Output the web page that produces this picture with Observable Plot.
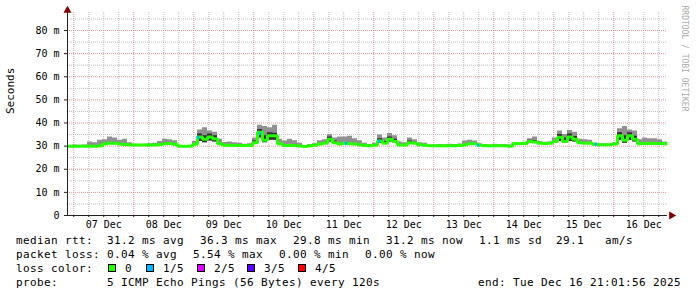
<!DOCTYPE html>
<html><head><meta charset="utf-8">
<script src="https://cdn.jsdelivr.net/npm/d3@7"></script>
<script src="https://cdn.jsdelivr.net/npm/@observablehq/plot@0.6"></script>
<style>
html,body{margin:0;padding:0;background:#fff;}
body{width:697px;height:297px;overflow:hidden;}
svg{display:block;}
</style></head><body>
<div id="chart"></div>
<script>
// ---- data (2-hour steps, starting Dec 6 21:30 UTC) ----
const medRtt = [30.0,30.0,30.0,30.0,30.0,30.0,30.1,31.0,31.2,31.2,
 30.9,30.7,30.6,30.5,30.5,30.5,30.5,30.5,30.7,31.0,
 31.1,30.8,29.9,30.0,30.0,30.8,34.0,33.0,34.0,33.2,
 31.0,30.4,30.4,30.3,30.3,30.3,30.3,31.5,36.0,32.5,
 34.5,34.5,31.0,30.3,30.3,30.3,30.1,29.8,30.2,30.4,
 30.9,31.2,33.0,31.5,30.9,31.2,31.0,30.9,30.6,30.3,
 30.2,30.4,32.2,31.3,33.0,32.0,30.5,30.5,31.5,31.2,
 30.6,30.4,30.2,30.2,30.2,30.2,30.2,30.2,30.3,30.6,
 31.0,31.0,30.4,30.2,30.2,30.2,30.2,30.2,30.0,31.0,
 31.1,31.1,32.0,31.8,31.2,31.1,31.2,32.0,33.8,32.0,
 34.0,33.0,31.5,31.2,31.2,30.8,30.6,30.6,30.6,30.9,
 34.5,32.5,34.5,33.0,31.0,31.1,31.1,31.1,31.1,31.0];
const pingMax = [30.3,30.5,30.4,30.5,31.8,31.5,32.5,32.8,34.0,33.5,
 32.5,33.0,31.5,30.8,30.7,30.8,31.0,31.2,32.0,33.0,
 32.8,32.3,30.3,30.2,30.2,32.0,37.0,38.0,36.5,36.0,
 33.0,31.6,31.8,31.5,31.2,30.8,31.0,33.5,39.0,38.5,
 38.0,39.0,33.0,32.2,33.0,32.3,31.2,30.2,30.7,31.0,
 32.3,32.8,35.0,33.5,34.0,34.0,34.3,33.2,32.3,31.2,
 30.7,31.2,34.8,33.5,35.5,34.5,31.8,31.5,33.5,32.8,
 31.5,31.2,30.5,30.5,30.7,30.6,30.8,30.7,30.9,32.2,
 32.5,32.2,31.0,30.7,30.5,30.8,30.6,30.7,30.5,31.4,
 31.5,31.7,33.2,34.0,32.0,31.7,31.8,33.5,36.5,35.0,
 36.8,36.0,33.0,32.8,32.5,31.3,30.9,31.0,30.9,31.5,
 37.5,38.5,37.0,36.5,32.8,33.5,33.2,33.2,32.8,31.8];
const pingInnerHi = [30.0,30.0,30.0,30.0,30.0,30.0,30.1,31.3,31.6,31.5,
 30.9,30.7,30.6,30.5,30.5,30.5,30.5,30.5,30.7,31.3,
 31.4,30.8,29.9,30.0,30.0,30.8,35.2,34.5,35.2,34.5,
 31.0,30.4,30.4,30.3,30.3,30.3,30.3,32.2,37.2,34.5,
 35.8,35.6,31.0,30.3,30.3,30.3,30.1,29.8,30.2,30.4,
 30.9,31.2,34.0,32.2,30.9,31.6,31.0,30.9,30.6,30.3,
 30.2,30.4,33.2,32.0,34.0,33.0,30.5,30.5,32.2,31.2,
 30.6,30.4,30.2,30.2,30.2,30.2,30.2,30.2,30.3,30.6,
 31.0,31.0,30.4,30.2,30.2,30.2,30.2,30.2,30.0,31.0,
 31.1,31.1,32.5,32.4,31.2,31.1,31.2,32.0,35.0,33.5,
 35.2,34.2,31.5,31.2,31.2,30.8,30.6,30.6,30.6,30.9,
 35.8,34.5,35.8,34.3,31.0,31.1,31.1,31.1,31.1,31.0];
const pingMin = [29.7,29.7,29.7,29.7,29.7,29.7,29.8,30.7,30.9,30.9,
 30.6,30.4,30.3,30.2,30.2,30.2,30.2,30.2,30.4,30.7,
 30.8,30.5,29.5,29.7,29.7,30.4,32.0,31.5,32.2,31.8,
 30.7,30.1,30.1,30.0,30.0,30.0,30.0,31.0,33.5,31.5,
 32.5,32.5,30.6,30.0,30.0,30.0,29.8,29.5,29.9,30.1,
 30.6,30.9,31.8,31.0,30.6,30.9,30.7,30.6,30.3,30.0,
 29.9,30.1,31.2,30.9,31.8,31.2,30.2,30.2,31.0,30.9,
 30.3,30.1,29.9,29.9,29.9,29.9,29.9,29.9,30.0,30.3,
 30.7,30.7,30.1,29.9,29.9,29.9,29.9,29.9,29.7,30.7,
 30.8,30.8,31.4,31.4,30.9,30.8,30.9,31.4,32.0,31.2,
 32.0,31.8,31.1,30.9,30.9,30.5,30.3,30.3,30.3,30.6,
 32.5,31.2,32.5,31.8,30.7,30.8,30.8,30.8,30.8,30.7];
// loss events: hours after Dec 7 00:00, pings lost (of 5), median at that time
const lossHour = [49.9, 74.7, 109.1, 122.3, 161.9, 209.0];
const lossPings = [1, 1, 1, 1, 1, 1];
const lossRtt = [33.8, 35.5, 31.2, 32.2, 30.4, 30.8];
const lossLabels = ["0", "1/5", "2/5", "3/5", "4/5"];
const lossColors = ["#26ff00", "#00b8ff", "#dd00ff", "#5e00ff", "#ff0000"];
const yTicks = [0, 10, 20, 30, 40, 50, 60, 70, 80];
const yMinor = [5, 15, 25, 35, 45, 55, 65, 75, 85];
const legendLines = [
  [[16, "median rtt:"], [107, "31.2 ms avg"], [200, "36.3 ms max"], [293, "29.8 ms min"], [386, "31.2 ms now"], [479, "1.1 ms sd"], [556, "29.1"], [605, "am/s"]],
  [[16, "packet loss:"], [107, "0.04 % avg"], [193, "5.54 % max"], [279, "0.00 % min"], [365, "0.00 % now"]],
  [[16, "loss color:"]],
  [[16, "probe:"], [107, "5 ICMP Echo Pings (56 Bytes) every 120s"], [478, "end: Tue Dec 16 21:01:56 2025"]]
];

// ---- build ----
const HOUR = 3600e3;
const day0 = Date.UTC(2025, 11, 7);
const startMs = day0 - 2.5 * HOUR;
const x0 = new Date(startMs), x1 = new Date(startMs + 240 * HOUR);
const rows = medRtt.map((m, i) => ({t: new Date(startMs + i * 2 * HOUR), med: m, hi: pingMax[i], inner: pingInnerHi[i], lo: pingMin[i]}));
rows.push({...rows[rows.length - 1], t: x1});
const midnights = d3.utcDay.range(x0, x1);
const sixAll = d3.utcHour.every(6).range(x0, x1);
const sixMinor = sixAll.filter(d => d.getUTCHours() !== 0);
const noons = midnights.map(d => new Date(+d + 12 * HOUR));
const lossIdx = lossHour.map((_, i) => i);

const minorStroke = "#bdbdbd", majorStroke = "#e39393";
const chart = Plot.plot({
  width: 697, height: 232,
  marginLeft: 67, marginRight: 30, marginTop: 12, marginBottom: 17,
  x: {type: "utc", domain: [x0, x1]},
  y: {domain: [0, 87.8]},
  color: {type: "identity"},
  style: {background: "#fff", fontFamily: "'DejaVu Sans Mono', monospace", fontSize: "10px", color: "#000"},
  marks: [
    Plot.ruleY(yMinor, {stroke: minorStroke, strokeDasharray: "1,1"}),
    Plot.ruleX(sixMinor, {stroke: minorStroke, strokeDasharray: "1,1"}),
    Plot.ruleY(yTicks.filter(d => d > 0), {stroke: majorStroke, strokeDasharray: "1,1"}),
    Plot.ruleX(midnights, {stroke: majorStroke, strokeDasharray: "1,1"}),
    Plot.areaY(rows, {x: "t", y1: "lo", y2: "hi", fill: "#919191", curve: "step-after"}),
    Plot.areaY(rows, {x: "t", y1: "lo", y2: "inner", fill: "#323232", curve: "step-after"}),
    Plot.line(rows, {x: "t", y: "med", stroke: lossColors[0], strokeWidth: 3, curve: "step-after", strokeLinejoin: "miter", strokeLinecap: "butt"}),
    Plot.ruleY(lossIdx, {
      x1: i => new Date(day0 + (lossHour[i] - 0.5) * HOUR),
      x2: i => new Date(day0 + (lossHour[i] + 0.5) * HOUR),
      y: i => lossRtt[i], stroke: i => lossColors[lossPings[i]], strokeWidth: 3
    }),
    Plot.axisY({ticks: yTicks, tickFormat: d => d === 0 ? "0" : d + " m", tickSize: 3, tickPadding: 5, label: null, stroke: "#212121"}),
    Plot.axisX({ticks: noons, tickFormat: d3.utcFormat("%d %b"), tickSize: 0, tickPadding: 5, label: null}),
    Plot.axisX({ticks: sixAll, tickFormat: () => "", tickSize: 2, label: null, stroke: "#212121"}),
    Plot.ruleY([0], {stroke: "#212121"}),
    Plot.ruleX([x0], {stroke: "#212121"}),
    Plot.dot([0], {frameAnchor: "top-left", symbol: "triangle", r: 3, fill: "#800000", stroke: "none", dy: -2}),
    Plot.dot([0], {frameAnchor: "bottom-right", symbol: "triangle", r: 3, fill: "#800000", stroke: "none", dx: 4, rotate: 90}),
    Plot.text(["Seconds"], {text: d => d, frameAnchor: "left", rotate: -90, dx: -57, fontSize: 11, fill: "#000"}),
    Plot.text(["RRDTOOL / TOBI OETIKER"], {text: d => d, frameAnchor: "top-right", rotate: 90, textAnchor: "start", dx: 20, dy: -7, fontSize: 8, fill: "#aaaaaa"})
  ]
});
document.getElementById("chart").appendChild(chart);

// ---- legend below the chart ----
const leg = d3.select("#chart").append("svg")
  .attr("width", 697).attr("height", 65)
  .style("font-family", "'DejaVu Sans Mono', monospace")
  .style("font-size", "11px").style("letter-spacing", "0.38px");
const baselines = [12, 26, 40, 54];
legendLines.forEach((line, li) => {
  line.forEach(([x, s]) => {
    leg.append("text").attr("x", x).attr("y", baselines[li]).attr("fill", "#000").attr("xml:space", "preserve").text(s);
  });
});
const boxX = [108, 146, 197, 247, 298];
lossLabels.forEach((lab, i) => {
  leg.append("rect").attr("x", boxX[i] + 0.5).attr("y", baselines[2] - 7.5).attr("width", 7).attr("height", 7)
    .attr("fill", lossColors[i]).attr("stroke", "#000");
  leg.append("text").attr("x", boxX[i] + 17).attr("y", baselines[2]).attr("fill", "#000").text(lab);
});
</script>
</body></html>
